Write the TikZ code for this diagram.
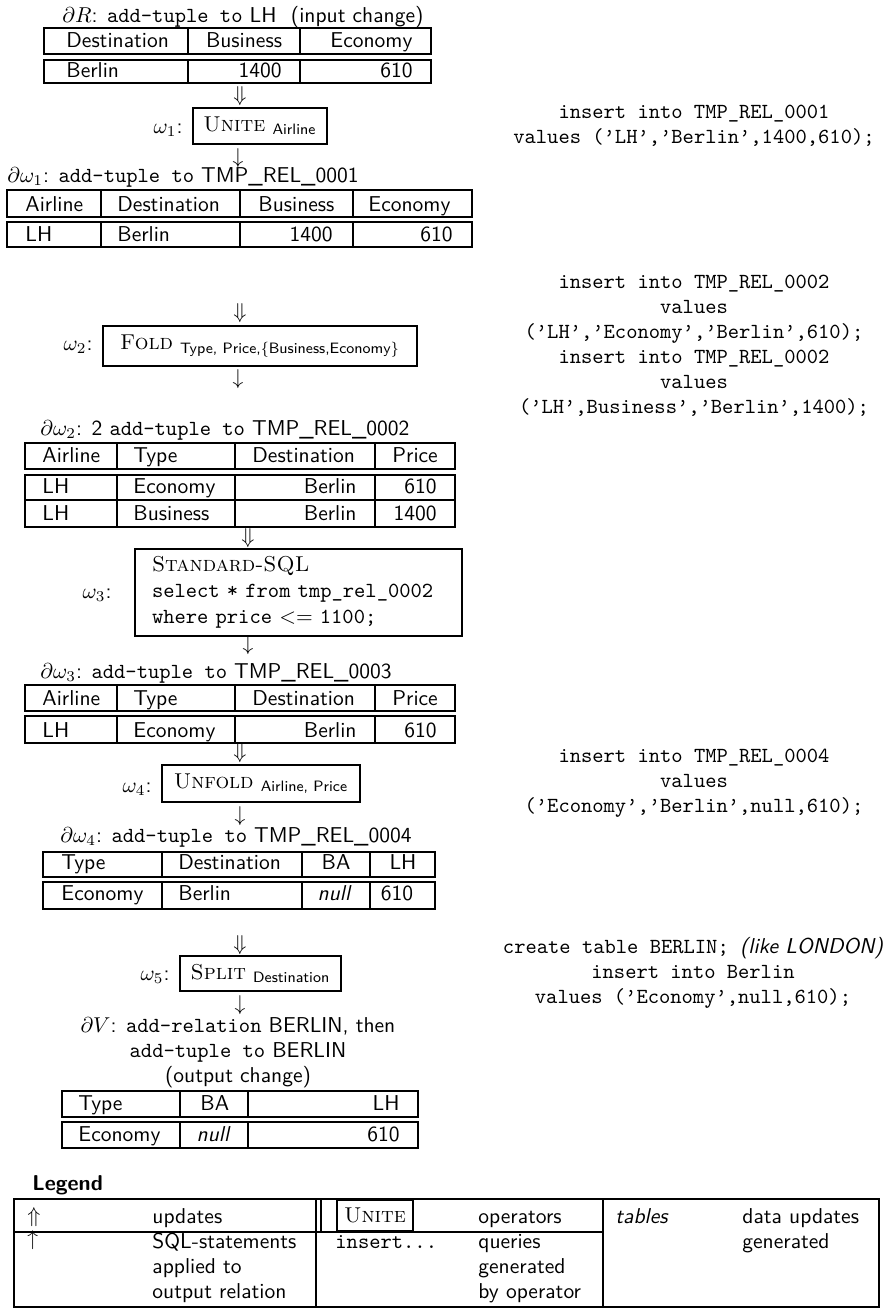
\documentclass[tikz,border=0pt]{standalone}
\usepackage{amsmath}
\usepackage{tikz}

\begin{document}
\begin{tikzpicture}[x=0.465pt, y=-0.465pt,
    tbl/.style={line width=0.9pt},
    txt/.style={font=\sffamily\fontsize{10}{11.6}\selectfont, inner sep=0pt},
    lft/.style={txt, anchor=base west},
    rgt/.style={txt, anchor=base east},
    mid/.style={txt, anchor=base},
    sql/.style={font=\ttfamily\fontsize{10}{11.6}\selectfont, inner sep=0pt, anchor=base, align=center},
    arr/.style={inner sep=0pt},
    opbox/.style={draw, line width=0.9pt, inner sep=0pt}]
    \useasboundingbox (0,0) rectangle (887,1309);

    % Input change dR
    \node[lft] (dR) at (62,22) {\(\partial R\): \texttt{add-tuple to} LH~~(input change)};
    \draw[tbl] (44,28) rectangle (431,54) (188,28) -- (188,54) (300,28) -- (300,54);
    \draw[tbl] (44,60) rectangle (431,83) (188,60) -- (188,83) (300,60) -- (300,83);
    \node[lft] (r1a) at (66,47) {Destination};
    \node[mid] (r1b) at (244,47) {Business};
    \node[lft] (r1c) at (330,47) {Economy};
    \node[lft] (r2a) at (66,77) {Berlin};
    \node[rgt] (r2b) at (282,77) {1400};
    \node[rgt] (r2c) at (413,77) {610};

    % Operator w1 - Unite
    \node[arr] (in1) at (240,96) {\(\Downarrow\)};
    \node[txt, anchor=base east] (w1) at (183,133) {\(\omega_1\):};
    \node[opbox, minimum width=62.31pt, minimum height=16.74pt] (unite) at (260,126) {\textsc{Unite} \(_{\textsf{Airline}}\)};
    \node[arr] (out1) at (238,158) {\(\downarrow\)};
    \node[sql] (q1) at (694,143) {insert into TMP\_REL\_0001\\values (’LH’,’Berlin’,1400,610);};

    % Result dw1
    \node[lft] (dw1) at (7,182) {\(\partial\omega_1\): \texttt{add-tuple to} TMP\_REL\_0001};
    \draw[tbl] (7,190) rectangle (472,217) (101,190) -- (101,217) (240,190) -- (240,217) (353,190) -- (353,217);
    \draw[tbl] (7,222) rectangle (472,247) (101,222) -- (101,247) (240,222) -- (240,247) (353,222) -- (353,247);
    \node[lft] (s1a) at (25,211) {Airline};
    \node[lft] (s1b) at (117,211) {Destination};
    \node[lft] (s1c) at (258,211) {Business};
    \node[lft] (s1d) at (368,211) {Economy};
    \node[lft] (s2a) at (25,241) {LH};
    \node[lft] (s2b) at (117,241) {Berlin};
    \node[rgt] (s2c) at (333,241) {1400};
    \node[rgt] (s2d) at (453,241) {610};

    % Operator w2 - Fold
    \node[arr] (in2) at (240,313) {\(\Downarrow\)};
    \node[txt, anchor=base east] (w2) at (93,350) {\(\omega_2\):};
    \node[opbox, minimum width=146.01pt, minimum height=18.6pt] (fold) at (260,346) {\textsc{Fold} \(_{\textsf{Type, Price,\{Business,Economy\}}}\)};
    \node[arr] (out2) at (238,379) {\(\downarrow\)};
    \node[sql] (q2) at (694,413) {insert into TMP\_REL\_0002\\values\\(’LH’,’Economy’,’Berlin’,610);\\insert into TMP\_REL\_0002\\values\\(’LH’,Business’,’Berlin’,1400);};

    % Result dw2
    \node[lft] (dw2) at (40,435) {\(\partial\omega_2\): 2 \texttt{add-tuple to} TMP\_REL\_0002};
    \draw[tbl] (25,443) rectangle (455,469) (117,443) -- (117,469) (235,443) -- (235,469) (375,443) -- (375,469);
    \draw[tbl] (25,475) rectangle (455,527) (25,500) -- (455,500) (117,475) -- (117,527) (235,475) -- (235,527) (375,475) -- (375,527);
    \node[lft] (f1a) at (42,462) {Airline};
    \node[lft] (f1b) at (133,462) {Type};
    \node[lft] (f1c) at (252,462) {Destination};
    \node[lft] (f1d) at (392,462) {Price};
    \node[lft] (f2a) at (42,493) {LH};
    \node[lft] (f2b) at (133,493) {Economy};
    \node[rgt] (f2c) at (357,493) {Berlin};
    \node[rgt] (f2d) at (437,493) {610};
    \node[lft] (f3a) at (42,520) {LH};
    \node[lft] (f3b) at (133,520) {Business};
    \node[rgt] (f3c) at (357,520) {Berlin};
    \node[rgt] (f3d) at (437,520) {1400};

    % Operator w3 - Standard-SQL
    \node[arr] (in3) at (248,538) {\(\Downarrow\)};
    \node[txt, anchor=base east] (w3) at (112,598) {\(\omega_3\):};
    \node[opbox, minimum width=152.06pt, minimum height=40.46pt, text width=136.2pt, align=left] (stdsql) at (298.5,592.5)
        {\textsc{Standard-SQL}\\\texttt{select * from tmp\_rel\_0002}\\\texttt{where price \(<=\) 1100;}};
    \node[arr] (out3) at (248,645) {\(\downarrow\)};

    % Result dw3
    \node[lft] (dw3) at (40,678) {\(\partial\omega_3\): \texttt{add-tuple to} TMP\_REL\_0003};
    \draw[tbl] (25,685) rectangle (455,711) (117,685) -- (117,711) (235,685) -- (235,711) (375,685) -- (375,711);
    \draw[tbl] (25,716) rectangle (455,743) (117,716) -- (117,743) (235,716) -- (235,743) (375,716) -- (375,743);
    \node[lft] (g1a) at (42,705) {Airline};
    \node[lft] (g1b) at (133,705) {Type};
    \node[lft] (g1c) at (252,705) {Destination};
    \node[lft] (g1d) at (392,705) {Price};
    \node[lft] (g2a) at (42,737) {LH};
    \node[lft] (g2b) at (133,737) {Economy};
    \node[rgt] (g2c) at (357,737) {Berlin};
    \node[rgt] (g2d) at (437,737) {610};

    % Operator w4 - Unfold
    \node[arr] (in4) at (240,753) {\(\Downarrow\)};
    \node[txt, anchor=base east] (w4) at (152,792) {\(\omega_4\):};
    \node[opbox, minimum width=92.07pt, minimum height=17.2pt] (unfold) at (261,783.5) {\textsc{Unfold} \(_{\textsf{Airline, Price}}\)};
    \node[arr] (out4) at (240,816) {\(\downarrow\)};
    \node[sql] (q4) at (694,812) {insert into TMP\_REL\_0004\\values\\(’Economy’,’Berlin’,null,610);};

    % Result dw4
    \node[lft] (dw4) at (60,842) {\(\partial\omega_4\): \texttt{add-tuple to} TMP\_REL\_0004};
    \draw[tbl] (43,852) rectangle (435,877) (162,852) -- (162,877) (302,852) -- (302,877) (370,852) -- (370,877);
    \draw[tbl] (43,882) rectangle (435,909) (162,882) -- (162,909) (302,882) -- (302,909) (370,882) -- (370,909);
    \node[lft] (u1a) at (61,869) {Type};
    \node[lft] (u1b) at (178,869) {Destination};
    \node[mid] (u1c) at (336,869) {BA};
    \node[mid] (u1d) at (403,869) {LH};
    \node[lft] (u2a) at (61,900) {Economy};
    \node[lft] (u2b) at (178,900) {Berlin};
    \node[mid] (u2c) at (334,900) {\itshape null};
    \node[mid] (u2d) at (397,900) {610};

    % Operator w5 - Split
    \node[arr] (in5) at (240,945) {\(\Downarrow\)};
    \node[txt, anchor=base east] (w5) at (170,980) {\(\omega_5\):};
    \node[opbox, minimum width=74.87pt, minimum height=16.28pt] (split) at (260.5,973.5) {\textsc{Split} \(_{\textsf{Destination}}\)};
    \node[arr] (out5) at (240,1005) {\(\downarrow\)};
    \node[sql] (q5) at (693,1003) {create table BERLIN; {\sffamily\itshape (like LONDON)}\\insert into Berlin\\values (’Economy’,null,610);};

    % Output change dV
    \node[mid, align=center] (dV) at (238,1082) {\(\partial V\): \texttt{add-relation} BERLIN, then\\\texttt{add-tuple to} BERLIN\\(output change)};
    \draw[tbl] (62,1091) rectangle (418,1117) (180,1091) -- (180,1117) (248,1091) -- (248,1117);
    \draw[tbl] (62,1122) rectangle (418,1148) (180,1122) -- (180,1148) (248,1122) -- (248,1148);
    \node[lft] (v1a) at (78,1110) {Type};
    \node[lft] (v1b) at (200,1110) {BA};
    \node[rgt] (v1c) at (400,1110) {LH};
    \node[lft] (v2a) at (78,1141) {Economy};
    \node[mid] (v2b) at (213,1141) {\itshape null};
    \node[rgt] (v2c) at (400,1141) {610};

    % Legend
    \node[lft, font=\sffamily\bfseries] (legend) at (32,1190) {Legend};
    \draw[tbl] (14,1199) rectangle (879,1307);
    \draw[tbl] (14,1232) -- (603,1232);
    \draw[tbl] (316,1199) -- (316,1307) (321,1199) -- (321,1232);
    \draw[tbl] (603,1199) -- (603,1307);
    \node[arr, anchor=west] (lupd) at (27,1217) {\(\Uparrow\)};
    \node[arr, anchor=west] (lsql) at (27,1240) {\(\uparrow\)};
    \node[lft] (tupd) at (152,1223) {updates};
    \node[lft, align=left] (tsql) at (152,1298) {SQL-statements\\applied to\\output relation};
    \node[opbox, minimum width=35.34pt, minimum height=14.42pt] (lunite) at (375,1215.5) {\textsc{Unite}};
    \node[lft, font=\ttfamily] (lins) at (335,1248) {insert...};
    \node[lft] (tops) at (478,1223) {operators};
    \node[lft, align=left] (tqry) at (478,1298) {queries\\generated\\by operator};
    \node[lft, font=\sffamily\itshape] (ltab) at (615,1223) {tables};
    \node[lft, align=left] (tdat) at (742,1248) {data updates\\generated};

\end{tikzpicture}
\end{document}
